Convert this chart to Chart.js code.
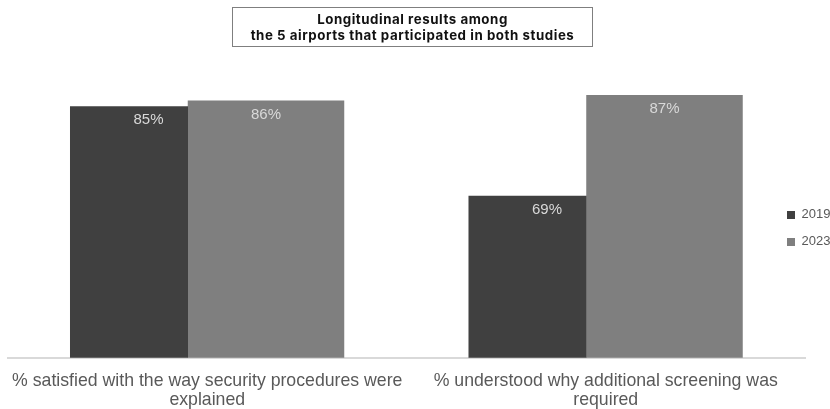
<!DOCTYPE html>
<html>
<head>
<meta charset="utf-8">
<script src="https://cdn.jsdelivr.net/npm/chart.js@4/dist/chart.umd.min.js"></script>
<style>
  html, body { margin: 0; padding: 0; background: #ffffff; }
  #wrap { position: relative; width: 830px; height: 409px; overflow: hidden; }
  #chart { position: absolute; left: 0; top: 0; }
  #title {
    position: absolute; left: 232px; top: 7px; width: 359px; height: 38px;
    border: 1px solid #7f7f7f; box-sizing: content-box;
    font-family: Inter, "Noto Sans", sans-serif; font-weight: 700; font-size: 13.3px;
    letter-spacing: 0.55px;
    line-height: 16px; color: #111111; text-align: center;
    display: flex; flex-direction: column; justify-content: center;
  }
</style>
</head>
<body>
<div id="wrap">
  <canvas id="chart" width="830" height="409"></canvas>
  <div id="title"><div>Longitudinal results among</div><div>the 5 airports that participated in both studies</div></div>
</div>
<script>
// Survey questions (axis categories, wrapped onto two lines)
const categories = [
  ['% satisfied with the way security procedures were', 'explained'],
  ['% understood why additional screening was', 'required']
];
// Share of respondents, in percent
const values2019 = [85, 69];
const values2023 = [86, 87];
const seriesNames = ['2019', '2023'];

// Value labels inside the top of each bar
const barValueLabels = {
  id: 'barValueLabels',
  afterDatasetsDraw(chart) {
    const ctx = chart.ctx;
    const shift = [19.5, 0];
    ctx.save();
    ctx.font = '15px "Liberation Sans", Arial, sans-serif';
    ctx.fillStyle = '#d9d9d9';
    ctx.textAlign = 'center';
    ctx.textBaseline = 'middle';
    chart.data.datasets.forEach((ds, di) => {
      chart.getDatasetMeta(di).data.forEach((bar, i) => {
        ctx.fillText(ds.data[i] + '%', bar.x + shift[di], bar.y + 14);
      });
    });
    ctx.restore();
  }
};

// Let the legend reach back over the right end of the plot area
const legendNudge = {
  id: 'legendNudge',
  afterLayout(chart) {
    const lg = chart.legend;
    if (!lg) return;
    lg.left -= 32;
    lg.width = lg.right - lg.left;
    lg.top += 2;
    lg.bottom += 2;
  }
};

new Chart(document.getElementById('chart'), {
  type: 'bar',
  data: {
    labels: categories,
    datasets: [
      {
        label: seriesNames[0],
        data: values2019,
        backgroundColor: '#404040',
        borderWidth: 0,
        categoryPercentage: 0.7855,
        barPercentage: 0.754
      },
      {
        label: seriesNames[1],
        data: values2023,
        backgroundColor: '#7f7f7f',
        borderWidth: 0,
        categoryPercentage: 0.5897,
        barPercentage: 1.332
      }
    ]
  },
  options: {
    responsive: false,
    animation: false,
    devicePixelRatio: 1,
    layout: { padding: { left: 8, right: 0, top: 95, bottom: -6 } },
    scales: {
      x: {
        grid: { display: false },
        border: { display: true, color: '#d9d9d9', width: 2 },
        ticks: {
          color: '#595959',
          padding: 5.5,
          maxRotation: 0,
          autoSkip: false,
          font: { family: '"Liberation Sans", Arial, sans-serif', size: 17.7, lineHeight: 1.08 }
        }
      },
      y: {
        display: false,
        min: 40,
        max: 87
      }
    },
    plugins: {
      title: { display: false },
      tooltip: { enabled: false },
      legend: {
        position: 'right',
        fullSize: false,
        maxWidth: 25,
        labels: {
          color: '#595959',
          boxWidth: 8,
          boxHeight: 8,
          padding: 14,
          font: { family: '"Liberation Sans", Arial, sans-serif', size: 13 }
        }
      }
    }
  },
  plugins: [barValueLabels, legendNudge]
});
</script>
</body>
</html>
